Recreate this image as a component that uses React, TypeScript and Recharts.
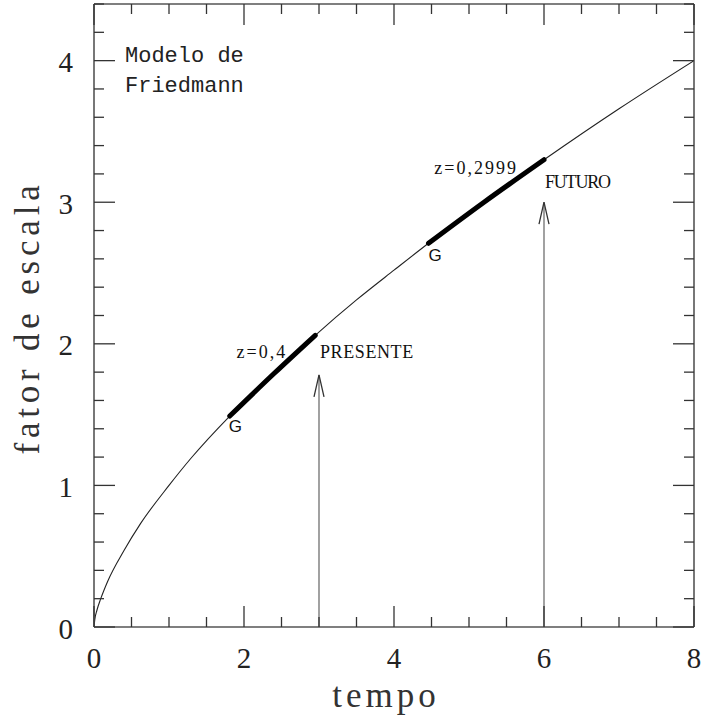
import React from "react";
import {
  ComposedChart,
  Line,
  XAxis,
  YAxis,
  ReferenceLine,
  ReferenceDot,
} from "recharts";

// curve: tempo vs fator de escala
const tempo = [0, 0.01, 0.04, 0.09, 0.18, 0.4, 0.62, 1.0, 1.29, 1.81, 2.4, 2.95, 3.5, 4.0, 4.46, 5.2, 6.0, 7.0, 8.0];
const fator = [0, 0.05, 0.12, 0.2, 0.32, 0.54, 0.73, 1.0, 1.19, 1.49, 1.79, 2.06, 2.31, 2.52, 2.71, 3.0, 3.3, 3.66, 4.0];

// thick stretches (G -> end) and their redshift labels
const segStart = [1.81, 4.46];
const segEnd = [2.95, 6.0];
const segLabels = ["z=0,4", "z=0,2999"];

// arrows
const arrowT = [3, 6];
const arrowTop = [1.78, 3.0];
const arrowLabels = ["PRESENTE", "FUTURO"];

const xTicks = [0, 0.5, 1, 1.5, 2, 2.5, 3, 3.5, 4, 4.5, 5, 5.5, 6, 6.5, 7, 7.5, 8];
const yTicks = [0, 0.2, 0.4, 0.6, 0.8, 1, 1.2, 1.4, 1.6, 1.8, 2, 2.2, 2.4, 2.6, 2.8, 3, 3.2, 3.4, 3.6, 3.8, 4, 4.2, 4.4];

const rows = tempo.map((t, i) => {
  const row: Record<string, number | null> = { t, a: fator[i] };
  segStart.forEach((s, k) => {
    row["g" + k] = t >= s && t <= segEnd[k] ? fator[i] : null;
  });
  return row;
});

const valueAt = (t: number) => fator[tempo.indexOf(t)];

const FRAME = "#555";
const TICK = "#333";
const SERIF = "'Liberation Serif', serif";

const isMajorX = (v: number) => v % 2 === 0;

function BottomTick(p: any) {
  const v = p.payload.value;
  const major = isMajorX(v);
  return (
    <g>
      <line x1={p.x} x2={p.x} y1={p.y} y2={p.y - (major ? 21 : 10)} stroke={TICK} strokeWidth={1.3} />
      {major && (
        <text x={p.x} y={p.y + 41} textAnchor="middle" fontFamily={SERIF} fontSize={29} fill="#222">
          {v}
        </text>
      )}
    </g>
  );
}

function TopTick(p: any) {
  const major = isMajorX(p.payload.value);
  return <line x1={p.x} x2={p.x} y1={p.y} y2={p.y + (major ? 21 : 10)} stroke={TICK} strokeWidth={1.3} />;
}

function LeftTick(p: any) {
  const v = p.payload.value;
  const major = Number.isInteger(v);
  return (
    <g>
      <line x1={p.x} x2={p.x + (major ? 21 : 10)} y1={p.y} y2={p.y} stroke={TICK} strokeWidth={1.3} />
      {major && (
        <text x={p.x - 21} y={p.y + 11.5} textAnchor="end" fontFamily={SERIF} fontSize={29} fill="#222">
          {v}
        </text>
      )}
    </g>
  );
}

function RightTick(p: any) {
  const major = Number.isInteger(p.payload.value);
  return <line x1={p.x} x2={p.x - (major ? 21 : 10)} y1={p.y} y2={p.y} stroke={TICK} strokeWidth={1.3} />;
}

const textAt =
  (label: string, dx: number, dy: number, opts: Record<string, any> = {}) =>
  (p: any) => (
    <text x={p.cx + dx} y={p.cy + dy} fontFamily={SERIF} fontSize={18} fill="#111" {...opts}>
      {label}
    </text>
  );

const arrowShape = (p: any) => (
  <g>
    <line x1={p.x1} y1={p.y1} x2={p.x2} y2={p.y2} stroke="#555" strokeWidth={1.1} />
    <path
      d={`M${p.x2 - 5},${p.y2 + 22} L${p.x2},${p.y2} L${p.x2 + 5},${p.y2 + 22}`}
      fill="none"
      stroke="#333"
      strokeWidth={1.3}
    />
  </g>
);

const sans = { fontFamily: "'Liberation Sans', sans-serif", fontSize: 17 };

export default function App() {
  return (
    <div style={{ position: "absolute", left: 0, top: 0, width: 706, height: 719, background: "#fff" }}>
      <ComposedChart width={706} height={719} data={rows} margin={{ top: 3, right: 11, bottom: 0, left: 0 }}>
        <XAxis
          dataKey="t"
          type="number"
          domain={[0, 8]}
          ticks={xTicks}
          interval={0}
          height={92}
          tickSize={0}
          tickMargin={0}
          tick={<BottomTick />}
          axisLine={{ stroke: FRAME, strokeWidth: 1.6 }}
          allowDataOverflow
        />
        <XAxis
          xAxisId="top"
          orientation="top"
          dataKey="t"
          type="number"
          domain={[0, 8]}
          ticks={xTicks}
          interval={0}
          height={1}
          tickSize={0}
          tickMargin={0}
          tick={<TopTick />}
          axisLine={{ stroke: FRAME, strokeWidth: 1.6 }}
          allowDataOverflow
        />
        <YAxis
          type="number"
          domain={[0, 4.4]}
          ticks={yTicks}
          interval={0}
          width={94}
          tickSize={0}
          tickMargin={0}
          tick={<LeftTick />}
          axisLine={{ stroke: FRAME, strokeWidth: 1.6 }}
          allowDataOverflow
        />
        <YAxis
          yAxisId="right"
          orientation="right"
          type="number"
          domain={[0, 4.4]}
          ticks={yTicks}
          interval={0}
          width={1}
          tickSize={0}
          tickMargin={0}
          tick={<RightTick />}
          axisLine={{ stroke: FRAME, strokeWidth: 1.6 }}
          allowDataOverflow
        />

        {arrowT.map((t, k) => (
          <ReferenceLine
            key={"arrow" + k}
            segment={[
              { x: t, y: 0 },
              { x: t, y: arrowTop[k] },
            ]}
            shape={arrowShape}
          />
        ))}

        {/* invisible copy bound to the mirrored axes so they get drawn */}
        <Line
          xAxisId="top"
          yAxisId="right"
          dataKey="a"
          stroke="none"
          dot={false}
          activeDot={false}
          isAnimationActive={false}
        />
        <Line
          dataKey="a"
          type="monotone"
          stroke="#222"
          strokeWidth={1.1}
          dot={false}
          activeDot={false}
          isAnimationActive={false}
        />
        {segStart.map((_, k) => (
          <Line
            key={"g" + k}
            dataKey={"g" + k}
            type="monotone"
            stroke="#000"
            strokeWidth={5}
            strokeLinecap="round"
            dot={false}
            activeDot={false}
            connectNulls={false}
            isAnimationActive={false}
          />
        ))}

        {/* G marks at the start of each thick stretch */}
        <ReferenceDot x={segStart[0]} y={valueAt(segStart[0])} r={1} shape={textAt("G", -1, 16, sans)} />
        <ReferenceDot x={segStart[1]} y={valueAt(segStart[1])} r={1} shape={textAt("G", 0, 18, sans)} />
        {/* redshift labels at the end of each stretch */}
        <ReferenceDot x={segEnd[0]} y={valueAt(segEnd[0])} r={1} shape={textAt(segLabels[0], -28, 23, { textAnchor: "end", letterSpacing: 2 })} />
        <ReferenceDot x={segEnd[1]} y={valueAt(segEnd[1])} r={1} shape={textAt(segLabels[1], -26, 14, { textAnchor: "end", letterSpacing: 2 })} />
        {/* arrow captions */}
        <ReferenceDot x={arrowT[0]} y={arrowTop[0]} r={1} shape={textAt(arrowLabels[0], 1, -17, { letterSpacing: 0.6 })} />
        <ReferenceDot x={arrowT[1]} y={arrowTop[1]} r={1} shape={textAt(arrowLabels[1], 1, -14, { letterSpacing: -1.2 })} />

        {/* model caption in the top-left corner */}
        <ReferenceDot
          x={0}
          y={4.4}
          r={1}
          shape={(p: any) => (
            <text fontFamily="'Liberation Mono', monospace" fontSize={22} fill="#222">
              <tspan x={p.cx + 31} y={p.cy + 58}>Modelo de</tspan>
              <tspan x={p.cx + 31} y={p.cy + 88}>Friedmann</tspan>
            </text>
          )}
        />

        {/* axis titles */}
        <ReferenceDot
          x={4}
          y={0}
          r={1}
          shape={(p: any) => (
            <text x={p.cx - 8} y={p.cy + 80} textAnchor="middle" fontFamily={SERIF} fontSize={35} letterSpacing={4} fill="#333">
              tempo
            </text>
          )}
        />
        <ReferenceDot
          x={0}
          y={2.2}
          r={1}
          shape={(p: any) => (
            <text
              x={p.cx - 55}
              y={p.cy + 2}
              transform={`rotate(-90 ${p.cx - 55} ${p.cy + 2})`}
              textAnchor="middle"
              fontFamily={SERIF}
              fontSize={35}
              letterSpacing={4.8}
              fill="#333"
            >
              fator de escala
            </text>
          )}
        />
      </ComposedChart>
    </div>
  );
}
